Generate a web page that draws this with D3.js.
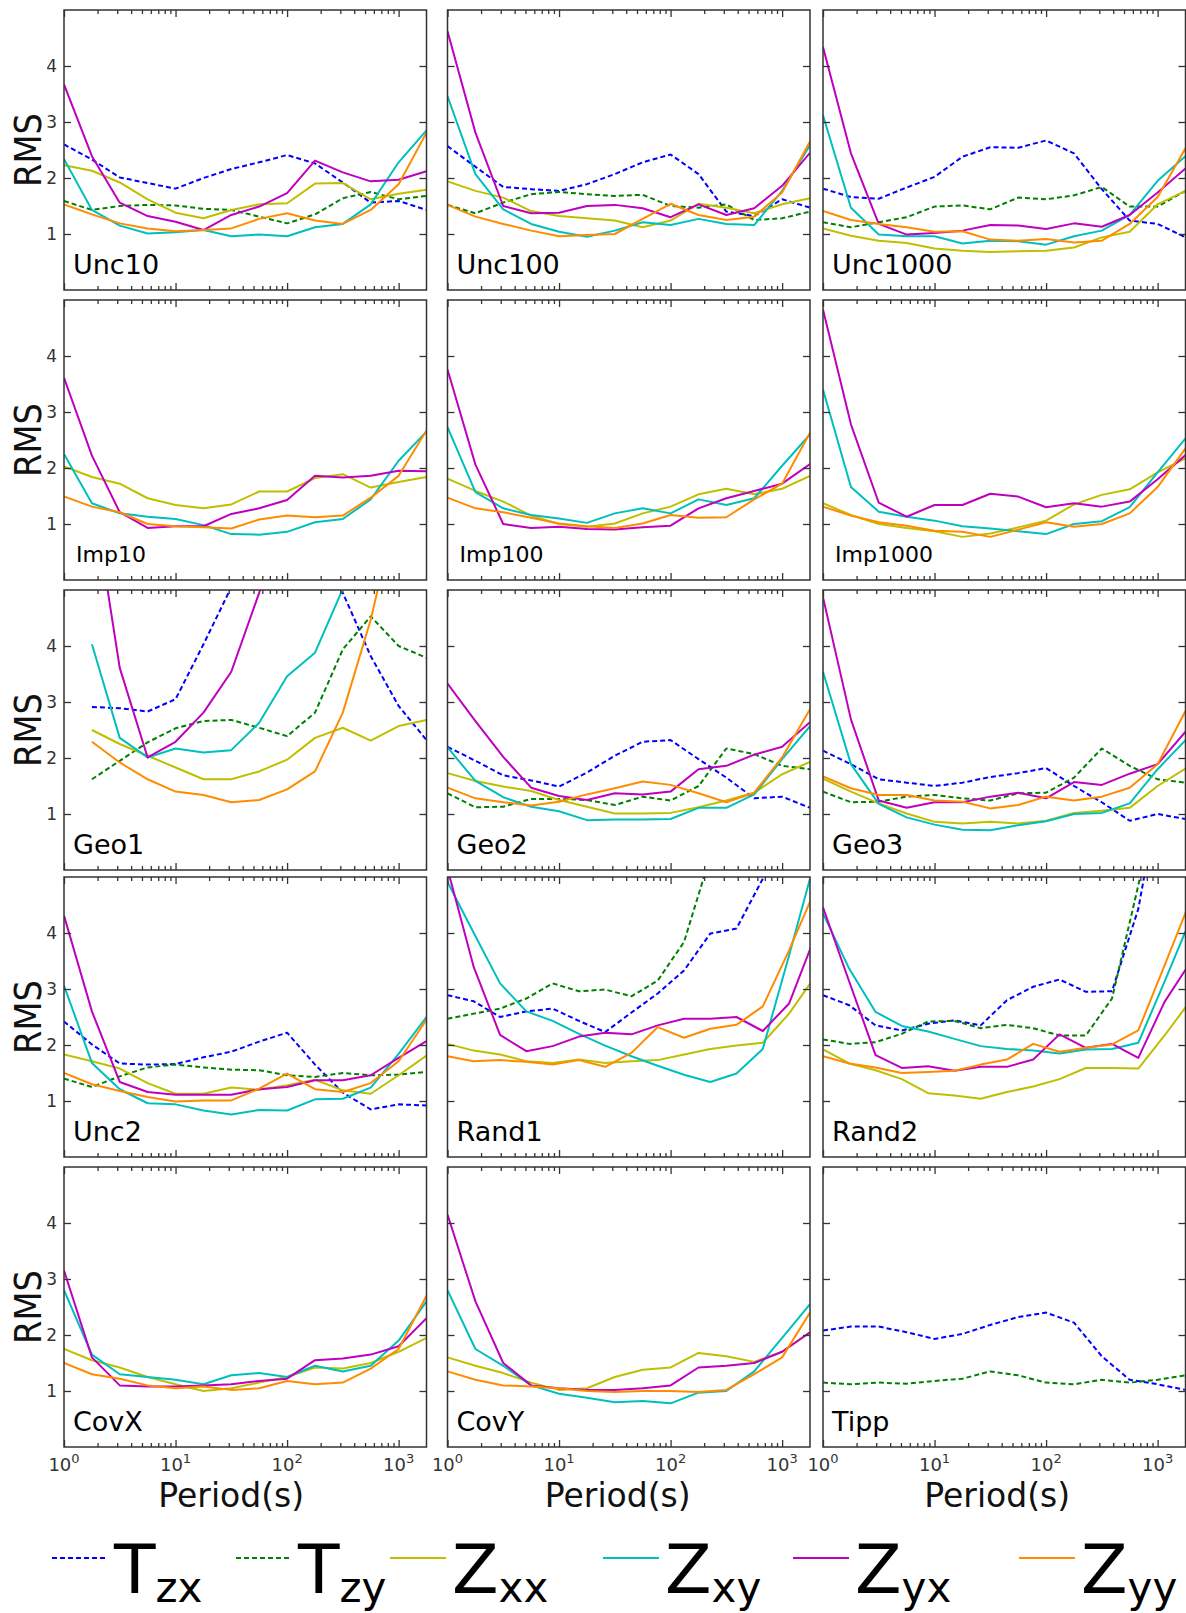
<!DOCTYPE html>
<html><head><meta charset="utf-8">
<script src="https://cdn.jsdelivr.net/npm/d3@7"></script>
<style>body{margin:0;background:#fff}svg{display:block}</style>
</head><body><svg id="c" width="1186" height="1613"></svg>
<script>
// ---------- data ----------
const seriesNames = ["Tzx","Tzy","Zxx","Zxy","Zyx","Zyy"];
const periods = [1,1.78,3.16,5.62,10,17.8,31.6,56.2,100,178,316,562,1000,1778];
const periodsRand = [1,1.72,2.96,5.09,8.76,15.1,25.9,44.6,76.7,132,227,390,671,1154,1986];
const xTickExponents = ["0","1","2","3"];
const xMajorTicks = [1,10,100,1000];
const yTicks = [1,2,3,4];

const Unc10 = {
  Tzx:[2.60,2.33,2.01,1.91,1.81,2.00,2.16,2.28,2.41,2.26,1.92,1.56,1.59,1.43],
  Tzy:[1.59,1.43,1.50,1.52,1.51,1.45,1.43,1.31,1.19,1.35,1.64,1.75,1.62,1.68],
  Zxx:[2.23,2.13,1.92,1.62,1.38,1.28,1.43,1.53,1.55,1.90,1.91,1.62,1.72,1.79],
  Zxy:[2.34,1.43,1.15,1.01,1.03,1.07,0.96,0.99,0.96,1.12,1.18,1.53,2.28,2.85],
  Zyx:[3.67,2.39,1.56,1.32,1.22,1.07,1.34,1.49,1.73,2.31,2.10,1.94,1.97,2.12],
  Zyy:[1.53,1.35,1.19,1.10,1.05,1.07,1.10,1.27,1.37,1.24,1.18,1.43,1.89,2.81]
};
const Unc100 = {
  Tzx:[2.57,2.20,1.84,1.80,1.77,1.89,2.07,2.28,2.42,2.07,1.40,1.32,1.62,1.47],
  Tzy:[1.52,1.37,1.56,1.71,1.75,1.71,1.68,1.70,1.50,1.47,1.53,1.25,1.28,1.40],
  Zxx:[1.94,1.77,1.65,1.41,1.32,1.28,1.24,1.12,1.24,1.54,1.47,1.37,1.53,1.64],
  Zxy:[3.46,2.07,1.44,1.18,1.04,0.95,1.06,1.21,1.16,1.27,1.18,1.16,1.77,2.59],
  Zyx:[4.62,2.81,1.50,1.37,1.38,1.50,1.52,1.46,1.30,1.53,1.34,1.46,1.86,2.45],
  Zyy:[1.52,1.31,1.18,1.06,0.96,0.98,1.00,1.27,1.54,1.34,1.25,1.31,1.74,2.65]
};
const Unc1000 = {
  Tzx:[1.81,1.66,1.63,1.83,2.02,2.38,2.55,2.54,2.67,2.44,1.80,1.24,1.18,0.94],
  Tzy:[1.21,1.12,1.21,1.30,1.49,1.51,1.44,1.65,1.62,1.69,1.84,1.49,1.49,1.77],
  Zxx:[1.10,0.97,0.88,0.84,0.74,0.70,0.68,0.69,0.70,0.76,0.94,1.04,1.53,1.77],
  Zxy:[3.12,1.47,0.99,0.96,0.96,0.83,0.88,0.87,0.81,0.96,1.06,1.34,1.95,2.39],
  Zyx:[4.34,2.44,1.18,0.99,1.02,1.06,1.16,1.15,1.09,1.19,1.13,1.34,1.74,2.17],
  Zyy:[1.41,1.25,1.18,1.12,1.04,1.05,0.90,0.88,0.91,0.85,0.88,1.18,1.66,2.53]
};
const Imp10 = {
  Zxx:[2.03,1.84,1.72,1.46,1.34,1.28,1.35,1.58,1.58,1.82,1.89,1.65,1.75,1.84],
  Zxy:[2.25,1.37,1.19,1.13,1.09,0.98,0.82,0.81,0.86,1.03,1.09,1.44,2.13,2.65],
  Zyx:[3.61,2.22,1.21,0.93,0.96,0.96,1.18,1.28,1.43,1.86,1.83,1.86,1.95,1.94],
  Zyy:[1.49,1.31,1.21,1.00,0.96,0.94,0.92,1.08,1.15,1.12,1.15,1.47,1.86,2.67]
};
const Imp100 = {
  Zxx:[1.81,1.59,1.40,1.15,1.00,0.95,1.01,1.19,1.31,1.53,1.63,1.53,1.63,1.86],
  Zxy:[2.73,1.57,1.28,1.16,1.10,1.02,1.19,1.28,1.19,1.44,1.34,1.46,2.04,2.60],
  Zyx:[3.76,2.06,1.00,0.93,0.95,0.91,0.90,0.94,0.97,1.28,1.46,1.59,1.72,2.07],
  Zyy:[1.47,1.28,1.21,1.11,1.01,0.96,0.93,1.01,1.16,1.11,1.12,1.44,1.72,2.63]
};
const Imp1000 = {
  Zxx:[1.37,1.16,1.00,0.93,0.87,0.77,0.83,0.94,1.06,1.35,1.52,1.62,1.92,2.17],
  Zxy:[3.40,1.66,1.22,1.13,1.06,0.96,0.92,0.87,0.82,1.00,1.05,1.30,1.92,2.53],
  Zyx:[4.83,2.78,1.38,1.13,1.34,1.34,1.54,1.49,1.30,1.37,1.31,1.40,1.80,2.23],
  Zyy:[1.31,1.15,1.03,0.97,0.88,0.86,0.77,0.90,1.03,0.95,1.00,1.19,1.66,2.35]
};
const Geo1 = {
  Tzx:[null,2.91,2.89,2.83,3.05,4.03,5.05,6.5,7.0,6.5,4.95,3.82,2.93,2.32],
  Tzy:[null,1.62,1.95,2.28,2.53,2.66,2.68,2.54,2.39,2.81,3.94,4.53,4.00,3.79],
  Zxx:[null,2.50,2.25,2.04,1.83,1.62,1.62,1.76,1.97,2.36,2.54,2.31,2.57,2.68],
  Zxy:[null,4.03,2.36,2.01,2.17,2.10,2.14,2.63,3.46,3.88,5.02,6.5,7.5,8.0],
  Zyx:[null,6.8,3.61,2.01,2.29,2.81,3.54,4.95,6.5,8.0,9.0,9.0,9.0,9.0],
  Zyy:[null,2.29,1.92,1.62,1.40,1.34,1.21,1.25,1.44,1.76,2.81,4.47,6.6,8.0]
};
const Geo2 = {
  Tzx:[2.20,1.95,1.69,1.60,1.49,1.74,2.04,2.29,2.32,1.98,1.65,1.28,1.31,1.11],
  Tzy:[1.37,1.12,1.13,1.27,1.27,1.25,1.16,1.31,1.24,1.50,2.17,2.07,1.86,1.80],
  Zxx:[1.73,1.59,1.49,1.41,1.25,1.13,1.01,1.01,1.02,1.12,1.24,1.38,1.71,1.93],
  Zxy:[2.19,1.59,1.30,1.13,1.05,0.89,0.90,0.90,0.91,1.11,1.11,1.35,1.98,2.57],
  Zyx:[3.33,2.66,2.02,1.47,1.32,1.25,1.37,1.35,1.40,1.80,1.86,2.06,2.20,2.64],
  Zyy:[1.47,1.28,1.21,1.15,1.22,1.35,1.46,1.58,1.52,1.37,1.21,1.38,2.01,2.87]
};
const Geo3 = {
  Tzx:[2.13,1.89,1.62,1.56,1.50,1.56,1.66,1.73,1.82,1.50,1.21,0.88,1.00,0.91],
  Tzy:[1.40,1.21,1.22,1.31,1.34,1.28,1.24,1.37,1.38,1.65,2.17,1.86,1.62,1.56],
  Zxx:[1.63,1.40,1.19,1.01,0.86,0.83,0.86,0.83,0.88,1.02,1.06,1.11,1.50,1.81],
  Zxy:[3.54,1.89,1.18,0.94,0.81,0.72,0.71,0.80,0.87,1.00,1.02,1.19,1.80,2.32],
  Zyx:[4.87,2.69,1.24,1.11,1.21,1.21,1.31,1.38,1.28,1.57,1.52,1.72,1.89,2.47],
  Zyy:[1.67,1.46,1.34,1.34,1.24,1.22,1.10,1.16,1.31,1.24,1.31,1.47,1.89,2.84]
};
const Unc2 = {
  Tzx:[2.42,2.01,1.67,1.65,1.66,1.78,1.88,2.06,2.22,1.65,1.15,0.85,0.94,0.92],
  Tzy:[1.40,1.25,1.44,1.60,1.65,1.60,1.56,1.55,1.46,1.43,1.50,1.46,1.47,1.52],
  Zxx:[1.83,1.71,1.58,1.32,1.13,1.13,1.24,1.20,1.28,1.38,1.19,1.13,1.46,1.81],
  Zxy:[3.06,1.68,1.21,0.96,0.94,0.83,0.76,0.84,0.83,1.03,1.04,1.24,1.84,2.50],
  Zyx:[4.31,2.60,1.34,1.16,1.11,1.11,1.11,1.21,1.25,1.37,1.37,1.46,1.77,2.07],
  Zyy:[1.50,1.30,1.18,1.07,0.99,1.01,1.01,1.22,1.49,1.21,1.16,1.32,1.71,2.45]
};
const Rand1 = {
  Tzx:[2.89,2.78,2.50,2.60,2.65,2.43,2.23,2.58,2.92,3.33,3.99,4.08,4.97,6.5,8.0],
  Tzy:[2.47,2.56,2.65,2.83,3.10,2.96,2.99,2.87,3.15,3.84,5.37,7.0,9.0,9.0,9.0],
  Zxx:[2.02,1.90,1.83,1.71,1.68,1.74,1.68,1.71,1.73,1.83,1.93,1.99,2.04,2.56,3.23],
  Zxy:[4.91,4.00,3.10,2.60,2.43,2.20,1.99,1.80,1.63,1.47,1.34,1.49,1.93,3.60,5.32],
  Zyx:[5.15,3.39,2.18,1.89,1.98,2.15,2.22,2.19,2.35,2.47,2.47,2.50,2.25,2.74,3.95],
  Zyy:[1.80,1.71,1.73,1.70,1.65,1.73,1.61,1.86,2.32,2.13,2.29,2.36,2.69,3.69,4.78]
};
const Rand2 = {
  Tzx:[2.89,2.71,2.35,2.26,2.38,2.44,2.35,2.80,3.04,3.17,2.95,2.96,4.43,7.0,9.0],
  Tzy:[2.10,2.02,2.05,2.20,2.42,2.43,2.30,2.36,2.30,2.17,2.17,2.83,4.85,7.0,9.0],
  Zxx:[1.92,1.67,1.55,1.39,1.14,1.10,1.04,1.16,1.26,1.39,1.59,1.59,1.58,2.17,2.80],
  Zxy:[4.35,3.36,2.59,2.34,2.24,2.11,1.98,1.93,1.90,1.85,1.92,1.93,2.04,3.13,4.26],
  Zyx:[4.46,3.13,1.82,1.59,1.62,1.54,1.61,1.61,1.74,2.19,1.95,2.02,1.77,2.77,3.49],
  Zyy:[1.80,1.67,1.60,1.50,1.52,1.54,1.65,1.74,2.02,1.88,1.95,2.01,2.26,3.42,4.60]
};
const CovX = {
  Zxx:[1.75,1.55,1.42,1.25,1.12,1.00,1.05,1.15,1.25,1.42,1.40,1.50,1.70,1.95],
  Zxy:[2.80,1.65,1.30,1.25,1.20,1.12,1.28,1.32,1.25,1.45,1.35,1.45,1.90,2.60],
  Zyx:[3.15,1.60,1.10,1.08,1.08,1.10,1.12,1.18,1.22,1.55,1.58,1.65,1.80,2.30],
  Zyy:[1.50,1.30,1.22,1.10,1.05,1.08,1.02,1.05,1.18,1.12,1.15,1.40,1.75,2.70]
};
const CovY = {
  Zxx:[1.60,1.45,1.32,1.15,1.02,1.05,1.25,1.38,1.42,1.68,1.62,1.52,1.70,2.05],
  Zxy:[2.80,1.75,1.45,1.10,0.95,0.88,0.80,0.82,0.78,0.97,1.00,1.35,1.95,2.55],
  Zyx:[4.15,2.60,1.50,1.10,1.05,1.02,1.02,1.05,1.10,1.42,1.45,1.50,1.70,2.05],
  Zyy:[1.35,1.20,1.10,1.08,1.05,1.00,0.98,1.00,1.00,0.98,1.02,1.30,1.60,2.40]
};
const Tipp = {
  Tzx:[2.08,2.15,2.15,2.05,1.93,2.02,2.18,2.32,2.40,2.22,1.62,1.20,1.12,1.02],
  Tzy:[1.15,1.12,1.15,1.13,1.18,1.22,1.35,1.28,1.15,1.12,1.20,1.15,1.20,1.28]
};

// ---------- layout ----------
const colX = [64, 447.5, 823];
const rowY = [10, 300, 590, 877, 1167];
const PW = 362.5, PH = 280;
const periodLabelShift = [-14, -11, -7];
const colors = {Tzx:"#0000ff", Tzy:"#008000", Zxx:"#bfbf00", Zxy:"#00bfbf", Zyx:"#bf00bf", Zyy:"#ff8c00"};
const dashed = {Tzx:true, Tzy:true};
const FONT = "'DejaVu Sans', Verdana, sans-serif";

const panels = [
  ["Unc10",Unc10,periods,0,0],["Unc100",Unc100,periods,0,1],["Unc1000",Unc1000,periods,0,2],
  ["Imp10",Imp10,periods,1,0],["Imp100",Imp100,periods,1,1],["Imp1000",Imp1000,periods,1,2],
  ["Geo1",Geo1,periods,2,0],["Geo2",Geo2,periods,2,1],["Geo3",Geo3,periods,2,2],
  ["Unc2",Unc2,periods,3,0],["Rand1",Rand1,periodsRand,3,1],["Rand2",Rand2,periodsRand,3,2],
  ["CovX",CovX,periods,4,0],["CovY",CovY,periods,4,1],["Tipp",Tipp,periods,4,2]
];

const svg = d3.select("#c");
svg.append("rect").attr("width",1186).attr("height",1613).attr("fill","#fff");

const minorTicks = [];
[1,10,100,1000].forEach(b=>{for(let k=2;k<=9;k++){ if(b*k<=1778) minorTicks.push(b*k);} });

panels.forEach(([name,data,per,r,c],pi)=>{
  const x0 = colX[c], y0 = rowY[r];
  const x = d3.scaleLog().domain([1,1778]).range([x0, x0+PW]);
  const y = d3.scaleLinear().domain([0,5]).range([y0+PH, y0]);
  const g = svg.append("g");
  const clipId = "clip"+pi;
  g.append("clipPath").attr("id",clipId).append("rect")
    .attr("x",x0).attr("y",y0).attr("width",PW).attr("height",PH);

  const lg = g.append("g").attr("clip-path",`url(#${clipId})`);
  seriesNames.forEach(s=>{
    if(!data[s]) return;
    const pts = data[s].map((v,i)=>[per[i],v]);
    const line = d3.line().defined(d=>d[1]!=null).x(d=>x(d[0])).y(d=>y(d[1]));
    lg.append("path").attr("d",line(pts)).attr("fill","none")
      .attr("stroke",colors[s]).attr("stroke-width",2)
      .attr("stroke-linejoin","round")
      .attr("stroke-dasharray",dashed[s]?"5,3":null);
  });

  // axes ticks (inward)
  const axStyle = sel=>{sel.select(".domain").remove(); sel.selectAll("line").attr("stroke","#333").attr("stroke-width",1.3);};
  g.append("g").attr("transform",`translate(0,${y0+PH})`)
    .call(d3.axisBottom(x).tickValues(xMajorTicks).tickSize(-7).tickFormat("")).call(axStyle);
  g.append("g").attr("transform",`translate(0,${y0+PH})`)
    .call(d3.axisBottom(x).tickValues(minorTicks).tickSize(-4).tickFormat("")).call(axStyle);
  g.append("g").attr("transform",`translate(0,${y0})`)
    .call(d3.axisTop(x).tickValues(xMajorTicks).tickSize(-7).tickFormat("")).call(axStyle);
  g.append("g").attr("transform",`translate(0,${y0})`)
    .call(d3.axisTop(x).tickValues(minorTicks).tickSize(-4).tickFormat("")).call(axStyle);
  g.append("g").attr("transform",`translate(${x0},0)`)
    .call(d3.axisLeft(y).tickValues(yTicks).tickSize(-7).tickFormat("")).call(axStyle);
  g.append("g").attr("transform",`translate(${x0+PW},0)`)
    .call(d3.axisRight(y).tickValues(yTicks).tickSize(-7).tickFormat("")).call(axStyle);

  g.append("rect").attr("x",x0).attr("y",y0).attr("width",PW).attr("height",PH)
    .attr("fill","none").attr("stroke","#333").attr("stroke-width",1.5);

  // y tick labels on first column
  if(c===0){
    yTicks.forEach(t=>{
      g.append("text").attr("x",x0-7).attr("y",y(t)).attr("dy","0.36em")
        .attr("text-anchor","end").attr("font-family",FONT).attr("font-size",17)
        .attr("fill","#333").text(t);
    });
    g.append("text").attr("transform",`translate(${x0-23},${y0+PH/2}) rotate(-90)`)
      .attr("text-anchor","middle").attr("font-family",FONT).attr("font-size",37)
      .attr("textLength",74).attr("lengthAdjust","spacingAndGlyphs")
      .attr("fill","#111").text("RMS");
  }
  // x tick labels bottom row
  if(r===4){
    xMajorTicks.forEach((t,i)=>{
      const tx = g.append("text").attr("x",x(t)).attr("y",y0+PH+24)
        .attr("text-anchor","middle").attr("font-family",FONT).attr("font-size",18).attr("fill","#333");
      tx.append("tspan").text("10");
      tx.append("tspan").attr("dy",-8).attr("font-size",13).text(xTickExponents[i]);
    });
    g.append("text").attr("x",x0+PW/2+periodLabelShift[c]).attr("y",y0+PH+60)
      .attr("text-anchor","middle").attr("font-family",FONT).attr("font-size",33)
      .attr("fill","#111").text("Period(s)");
  }
  const isImp = name.startsWith("Imp");
  g.append("text").attr("x",x0+(isImp?12:9)).attr("y",y0+PH-(isImp?18:16))
    .attr("font-family",FONT)
    .attr("font-size",isImp?22:27).attr("fill","#000").text(name);
});

// ---------- legend ----------
const legendItems = [
  {s:"Tzx", main:"T", sub:"zx", x:52},
  {s:"Tzy", main:"T", sub:"zy", x:236},
  {s:"Zxx", main:"Z", sub:"xx", x:390},
  {s:"Zxy", main:"Z", sub:"xy", x:603},
  {s:"Zyx", main:"Z", sub:"yx", x:793},
  {s:"Zyy", main:"Z", sub:"yy", x:1019}
];
const legY = 1558;
legendItems.forEach(it=>{
  svg.append("line").attr("x1",it.x).attr("x2",it.x+56).attr("y1",legY).attr("y2",legY)
    .attr("stroke",colors[it.s]).attr("stroke-width",2.2)
    .attr("stroke-dasharray",dashed[it.s]?"5,3":null);
  const t = svg.append("text").attr("x",it.x+62).attr("y",legY+35)
    .attr("font-family",FONT).attr("font-size",68).attr("fill","#000");
  t.append("tspan").text(it.main);
  t.append("tspan").attr("dy",9).attr("font-size",42).text(it.sub);
});
</script></body></html>
